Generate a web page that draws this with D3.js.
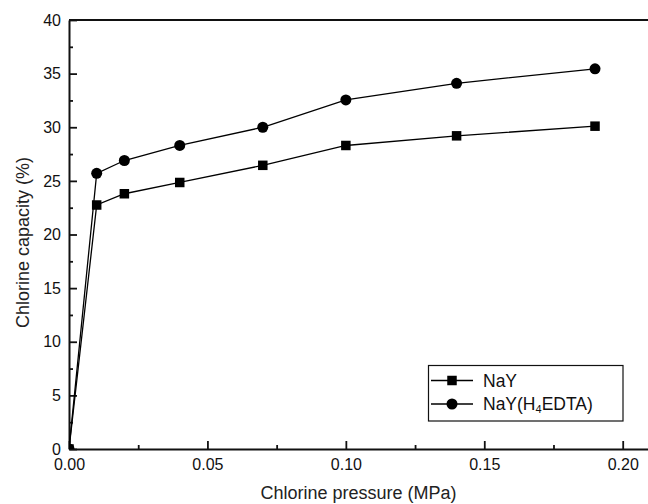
<!DOCTYPE html>
<html>
<head>
<meta charset="utf-8">
<script src="https://cdn.jsdelivr.net/npm/d3@7"></script>
<style>
  html, body { margin: 0; padding: 0; background: #fff; }
  svg { display: block; font-family: "Liberation Sans", Arial, sans-serif; }
</style>
</head>
<body>
<svg id="chart" width="648" height="504"></svg>
<script>
// ---- data ----
const pressure = [0, 0.01, 0.02, 0.04, 0.07, 0.10, 0.14, 0.19];
const nayCapacity = [0, 22.75, 23.8, 24.85, 26.45, 28.3, 29.2, 30.1];
const edtaCapacity = [0, 25.7, 26.9, 28.3, 30.0, 32.55, 34.1, 35.45];
const xTickValues = [0, 0.05, 0.10, 0.15, 0.20];
const xTickLabels = ["0.00", "0.05", "0.10", "0.15", "0.20"];
const yTickValues = [0, 5, 10, 15, 20, 25, 30, 35, 40];
const seriesNames = ["NaY", "NaY(H4EDTA)"];

// ---- layout ----
const mLeft = 69, mTop = 20, mBottom = 449;
const x = d3.scaleLinear().domain([0, 0.21]).range([mLeft, mLeft + 0.21 * 2768.5]);
const y = d3.scaleLinear().domain([0, 40]).range([mBottom, mTop]);

const svg = d3.select("#chart");

svg.append("defs").append("clipPath").attr("id", "plotclip")
  .append("rect").attr("x", mLeft).attr("y", mTop)
  .attr("width", 648 - mLeft).attr("height", mBottom - mTop);

// axes
const yAxis = d3.axisLeft(y).tickValues(yTickValues).tickSizeInner(-8).tickSizeOuter(0).tickPadding(8);
const yMinor = d3.axisLeft(y).tickValues(d3.range(2.5, 40, 5)).tickSize(-4).tickFormat("");
const xAxis = d3.axisBottom(x).tickValues(xTickValues).tickFormat((d, i) => xTickLabels[i])
  .tickSizeInner(-8).tickSizeOuter(0).tickPadding(10);
const xMinor = d3.axisBottom(x).tickValues([0.025, 0.075, 0.125, 0.175]).tickSize(-4).tickFormat("");

function styleAxis(g) {
  g.select(".domain").attr("stroke", "#111").attr("stroke-width", 2);
  g.selectAll(".tick line").attr("stroke", "#111").attr("stroke-width", 1.8);
  g.selectAll(".tick text").attr("fill", "#111").style("font-size", "16px")
    .style("font-family", "'Liberation Sans', Arial, sans-serif");
}

svg.append("g").attr("transform", `translate(${mLeft},0)`).call(yMinor).call(styleAxis)
  .select(".domain").remove();
svg.append("g").attr("transform", `translate(0,${mBottom})`).call(xMinor).call(styleAxis)
  .select(".domain").remove();
svg.append("g").attr("transform", `translate(${mLeft},0)`).call(yAxis).call(styleAxis);
svg.append("g").attr("transform", `translate(0,${mBottom})`).call(xAxis).call(styleAxis);

// top border
svg.append("line").attr("x1", mLeft).attr("x2", 648).attr("y1", mTop).attr("y2", mTop)
  .attr("stroke", "#111").attr("stroke-width", 2);
// right border (outside view)
svg.append("line").attr("x1", x(0.21)).attr("x2", x(0.21)).attr("y1", mTop).attr("y2", mBottom)
  .attr("stroke", "#111").attr("stroke-width", 2);

// axis titles
svg.append("text").attr("x", (mLeft + 648) / 2).attr("y", 499).attr("text-anchor", "middle")
  .style("font-size", "18px").attr("fill", "#222").text("Chlorine pressure (MPa)");
svg.append("text").attr("transform", `translate(29,${(mTop + mBottom) / 2 + 8}) rotate(-90)`)
  .attr("text-anchor", "middle").style("font-size", "18px").attr("fill", "#222")
  .text("Chlorine capacity (%)");

// series
const nayData = pressure.map((p, i) => ({ x: p, y: nayCapacity[i] }));
const edtaData = pressure.map((p, i) => ({ x: p, y: edtaCapacity[i] }));
const line = d3.line().x(d => x(d.x)).y(d => y(d.y));
const plot = svg.append("g").attr("clip-path", "url(#plotclip)");

plot.append("path").datum(nayData).attr("d", line).attr("fill", "none")
  .attr("stroke", "#000").attr("stroke-width", 1.3);
plot.append("path").datum(edtaData).attr("d", line).attr("fill", "none")
  .attr("stroke", "#000").attr("stroke-width", 1.3);

const sq = 9.5;
plot.selectAll("rect.nay").data(nayData).enter().append("rect").attr("class", "nay")
  .attr("x", d => x(d.x) - sq / 2).attr("y", d => y(d.y) - sq / 2)
  .attr("width", sq).attr("height", sq).attr("fill", "#000");
plot.selectAll("circle.edta").data(edtaData).enter().append("circle").attr("class", "edta")
  .attr("cx", d => x(d.x)).attr("cy", d => y(d.y)).attr("r", 5.5).attr("fill", "#000");

// legend
const lg = svg.append("g");
lg.append("rect").attr("x", 428.5).attr("y", 365.5).attr("width", 194.5).attr("height", 55.5)
  .attr("fill", "#fff").attr("stroke", "#111").attr("stroke-width", 1.2);
const rows = [380.5, 404];
rows.forEach((ry, i) => {
  lg.append("line").attr("x1", 431).attr("x2", 473).attr("y1", ry).attr("y2", ry)
    .attr("stroke", "#000").attr("stroke-width", 1.3);
  if (i === 0) {
    lg.append("rect").attr("x", 452 - sq / 2).attr("y", ry - sq / 2).attr("width", sq).attr("height", sq).attr("fill", "#000");
  } else {
    lg.append("circle").attr("cx", 452).attr("cy", ry).attr("r", 5.5).attr("fill", "#000");
  }
});
lg.append("text").attr("x", 483).attr("y", rows[0] + 6).style("font-size", "17.5px").attr("fill", "#111")
  .text(seriesNames[0]);
const t2 = lg.append("text").attr("x", 483).attr("y", rows[1] + 6).style("font-size", "17.5px").attr("fill", "#111");
t2.append("tspan").text("NaY(H");
t2.append("tspan").attr("dy", 3).style("font-size", "11px").text("4");
t2.append("tspan").attr("dy", -3).text("EDTA)");
</script>
</body>
</html>
